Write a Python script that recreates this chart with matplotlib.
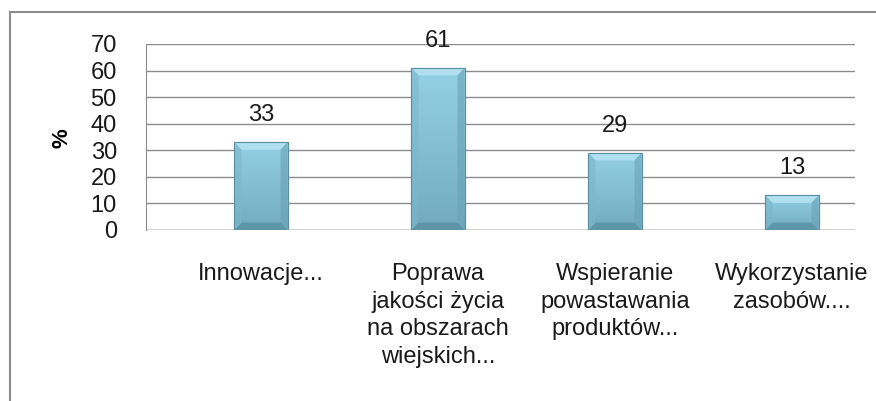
import numpy as np
import matplotlib.pyplot as plt
from matplotlib.patches import Rectangle, Polygon
from matplotlib.colors import LinearSegmentedColormap

categories = ['Innowacje...',
              'Poprawa\njakości życia\nna obszarach\nwiejskich...',
              'Wspieranie\npowastawania\nproduktów...',
              'Wykorzystanie\nzasobów....']
values = [33, 61, 29, 13]

plt.rcParams['font.family'] = ['Liberation Sans', 'DejaVu Sans']

W, H = 876, 401
fig = plt.figure(figsize=(W / 100, H / 100), dpi=100)
# outer chart frame
fig.patches.append(Rectangle((10 / W, -0.1), 1.2, 1.1 - 12 / H, transform=fig.transFigure,
                             fill=False, edgecolor='#8c8c8c', linewidth=1.5))

ax = fig.add_axes([146 / W, 1 - 230 / H, (855 - 146) / W, (230 - 44) / H])
x = np.arange(len(values))
bw = 0.30
bars = ax.bar(x, values, width=bw, color='#8ccbe0', edgecolor='#5b8fa2', linewidth=0.8, zorder=3)

# bevel look on each bar
bx, by = 0.04, 2.8
cmap = LinearSegmentedColormap.from_list('g', ['#72abc0', '#94d1e5'])
grad = np.linspace(0, 1, 50).reshape(-1, 1)
for b in bars:
    x0, w, h = b.get_x(), b.get_width(), b.get_height()
    im = ax.imshow(grad, extent=[x0, x0 + w, 0, h], origin='lower', aspect='auto',
                   cmap=cmap, zorder=3.1)
    im.set_clip_path(b)
    ax.add_patch(Polygon([(x0, h), (x0 + w, h), (x0 + w - bx, h - by), (x0 + bx, h - by)],
                         closed=True, facecolor='#b0e0ef', edgecolor='none', zorder=3.2))
    ax.add_patch(Polygon([(x0, 0), (x0 + w, 0), (x0 + w - bx, by), (x0 + bx, by)],
                         closed=True, facecolor='#4f8699', edgecolor='none', alpha=0.6, zorder=3.2))
    ax.add_patch(Polygon([(x0, 0), (x0 + bx, by), (x0 + bx, h - by), (x0, h)],
                         closed=True, facecolor='#7cb6ca', edgecolor='none', alpha=0.6, zorder=3.2))
    ax.add_patch(Polygon([(x0 + w, 0), (x0 + w - bx, by), (x0 + w - bx, h - by), (x0 + w, h)],
                         closed=True, facecolor='#6aa2b6', edgecolor='none', alpha=0.6, zorder=3.2))
    ax.add_patch(Rectangle((x0, 0), w, h, fill=False, edgecolor='#5b8fa2', linewidth=0.8, zorder=3.3))

for xi, v in zip(x, values):
    ax.text(xi, v + 7.9, str(v), ha='center', va='baseline', fontsize=17, color='#1a1a1a', zorder=4)

ax.set_xlim(-0.65, 3.356)
ax.set_ylim(0, 70)
ax.set_yticks(range(0, 71, 10))
ax.yaxis.grid(True, color='#8c8c8c', linewidth=1.0, zorder=0)
for s in ['top', 'right', 'bottom']:
    ax.spines[s].set_visible(False)
ax.spines['left'].set_color('#8c8c8c')
ax.axhline(0, color='#8c8c8c', linewidth=1.0, zorder=2)
ax.tick_params(axis='y', length=0, labelsize=17, pad=21, labelcolor='#1a1a1a')
ax.tick_params(axis='x', length=0, labelsize=17, pad=24, labelcolor='#1a1a1a')
ax.set_xticks(x)
ax.set_xticklabels(categories, linespacing=1.32)
ax.set_ylabel('%', fontsize=16, fontweight='bold')
ax.yaxis.set_label_coords(-0.104, 0.495)

fig.savefig('out.png', dpi=100)
